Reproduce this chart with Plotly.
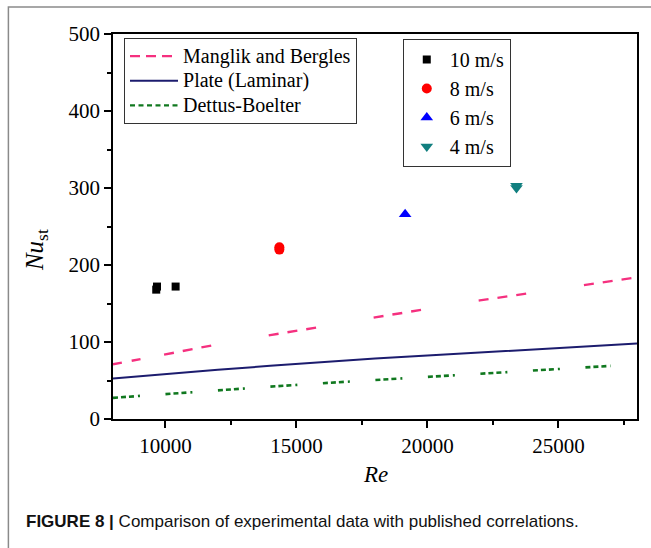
import plotly.graph_objects as go

# ---------------- data ----------------
re_10 = [9650, 9680, 10390]
nu_10 = [168, 172, 172]
re_8 = [14350, 14350]
nu_8 = [220, 223]
re_6 = [19150]
nu_6 = [266]
re_4 = [23400, 23400]
nu_4 = [300, 303]

re_manglik = [8000, 10000, 12000, 14000, 16000, 18000, 20000, 22000, 24000, 26000, 28000]
nu_manglik = [71, 84, 97, 109, 120, 132, 143, 154, 164, 174, 184]

re_plate = [8000, 10000, 12000, 14000, 16000, 18000, 20000, 22000, 24000, 26000, 28000]
nu_plate = [52.5, 58.5, 64, 69, 74, 78.5, 82.5, 86.5, 90.5, 94.5, 98]

re_dittus = [8000, 10000, 12000, 14000, 16000, 18000, 20000, 22000, 24000, 26000, 27000]
nu_dittus = [27.5, 32.5, 37.5, 42, 46.5, 50.5, 55, 59, 62.5, 67, 69]

x_ticks = [10000, 15000, 20000, 25000]
y_ticks = [0, 100, 200, 300, 400, 500]

# ---------------- styles ----------------
PINK = "#f5307f"
NAVY = "#1c1c6e"
GREEN = "#10781f"
SERIF = "Liberation Serif"
SANS = "Liberation Sans"


def big(label):
    return f'<span style="font-size:20px">{label}</span>'


# dash pattern of the Manglik line in the reference (irregular grouping)
pink_dash = [9, 10, 9, 24]
for _ in range(6):
    pink_dash += [10, 9, 10, 9, 10, 58.4]
pink_dash_str = ",".join(f"{v}px" for v in pink_dash)
green_dash_str = "5px,3px,5px,3px,5px,4px,2px,25.6px"

fig = go.Figure()

# legend 1 entries
fig.add_trace(go.Scatter(x=[None], y=[None], mode="lines", name=big("Manglik and Bergles"),
                         line=dict(color=PINK, width=2.2, dash="10px,6px"), legend="legend"))
fig.add_trace(go.Scatter(x=re_plate, y=nu_plate, mode="lines", name=big("Plate (Laminar)"),
                         line=dict(color=NAVY, width=2), legend="legend"))
fig.add_trace(go.Scatter(x=[None], y=[None], mode="lines", name=big("Dettus-Boelter"),
                         line=dict(color=GREEN, width=2.2, dash="5px,3.5px"), legend="legend"))

# actual dashed curves
fig.add_trace(go.Scatter(x=re_manglik, y=nu_manglik, mode="lines", showlegend=False,
                         line=dict(color=PINK, width=2.4, dash=pink_dash_str)))
fig.add_trace(go.Scatter(x=re_dittus, y=nu_dittus, mode="lines", showlegend=False,
                         line=dict(color=GREEN, width=2.6, dash=green_dash_str)))

# experimental points, legend 2
fig.add_trace(go.Scatter(x=re_10, y=nu_10, mode="markers", name="10 m/s", legend="legend2",
                         marker=dict(symbol="square", size=8, color="black")))
fig.add_trace(go.Scatter(x=re_8, y=nu_8, mode="markers", name="8 m/s", legend="legend2",
                         marker=dict(symbol="circle", size=10, color="#ff0000")))
fig.add_trace(go.Scatter(x=re_6, y=nu_6, mode="markers", name="6 m/s", legend="legend2",
                         marker=dict(symbol="triangle-up", size=11, color="#0000ff")))
fig.add_trace(go.Scatter(x=re_4, y=nu_4, mode="markers", name="4 m/s", legend="legend2",
                         marker=dict(symbol="triangle-down", size=11, color="#117f7f")))

axis_common = dict(showgrid=False, zeroline=False, showline=True, linecolor="black",
                   linewidth=1.5, mirror=True, ticks="outside", tickcolor="black",
                   tickwidth=1.5, ticklen=7, tickfont=dict(family=SERIF, size=21, color="black"))

fig.update_xaxes(range=[8000, 28000], tickvals=x_ticks, ticktext=[str(v) for v in x_ticks],
                 minor=dict(dtick=2500, ticks="outside", ticklen=4, tickcolor="black", tickwidth=1.5),
                 **axis_common)
fig.update_yaxes(range=[0, 500], tickvals=y_ticks, ticktext=[str(v) for v in y_ticks],
                 minor=dict(dtick=50, ticks="outside", ticklen=4, tickcolor="black", tickwidth=1.5),
                 **axis_common)

fig.update_layout(
    width=651, height=548,
    margin=dict(l=113, r=12, t=34, b=129),
    paper_bgcolor="white", plot_bgcolor="white",
    legend=dict(x=0.021, y=0.99, xanchor="left", yanchor="top", bgcolor="white",
                bordercolor="#333333", borderwidth=1, itemwidth=48,
                font=dict(family=SERIF, size=16.6, color="black"), tracegroupgap=0),
    legend2=dict(x=0.553, y=0.987, xanchor="left", yanchor="top", bgcolor="white",
                 bordercolor="#333333", borderwidth=1, tracegroupgap=0, itemwidth=36,
                 font=dict(family=SERIF, size=20, color="black")),
    annotations=[
        dict(text="<i>Re</i>", xref="paper", yref="paper", x=0.5, y=-0.145,
             xanchor="center", yanchor="middle", showarrow=False,
             font=dict(family=SERIF, size=23, color="black")),
        dict(text="<i>Nu</i><sub>st</sub>", xref="paper", yref="paper", x=-0.146, y=0.44,
             xanchor="center", yanchor="middle", showarrow=False, textangle=-90,
             font=dict(family=SERIF, size=25, color="black")),
        dict(text="<b>FIGURE 8 |</b> Comparison of experimental data with published correlations.",
             xref="paper", yref="paper", x=(24 - 113) / 526, y=(419 - 521) / 385,
             xanchor="left", yanchor="middle", showarrow=False,
             font=dict(family=SANS, size=17, color="#111111")),
    ],
    shapes=[
        dict(type="rect", xref="paper", yref="paper", x0=(8 - 113) / 526, x1=1.5,
             y0=-1.0, y1=(419 - 7) / 385, line=dict(color="#8a8a8a", width=1.5), layer="below"),
    ],
)

fig.write_html("out.html")
